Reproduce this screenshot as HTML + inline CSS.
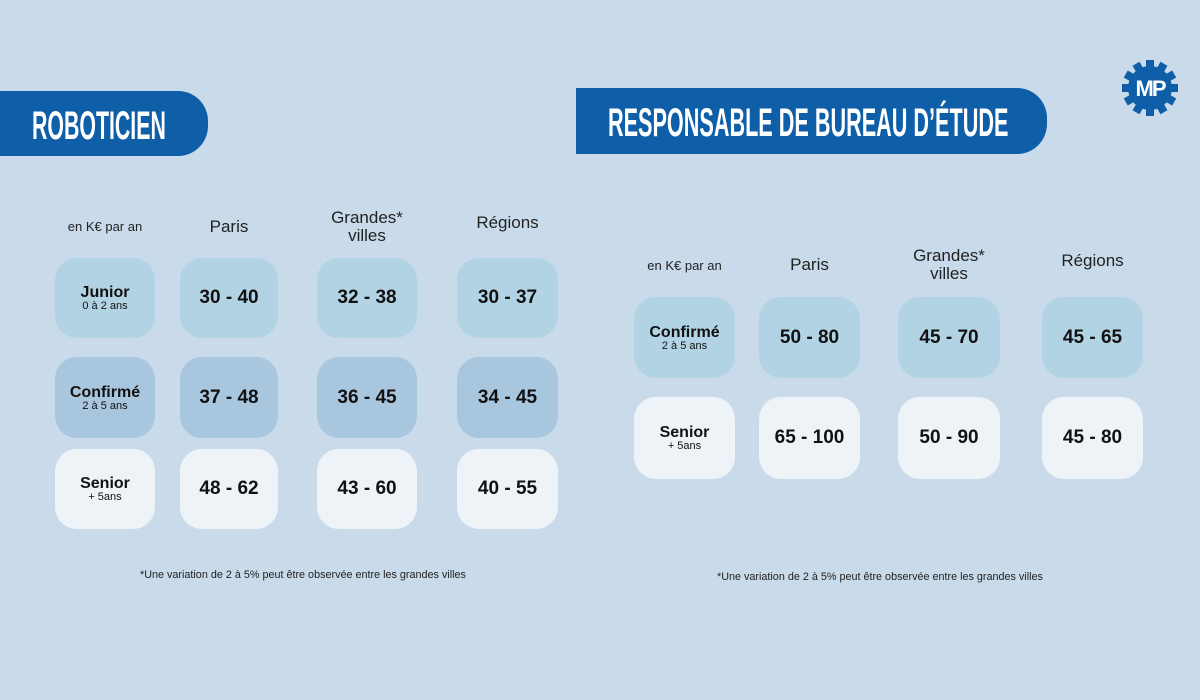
<!DOCTYPE html>
<html><head><meta charset="utf-8"><style>
*{margin:0;padding:0;box-sizing:border-box}
body{width:1200px;height:700px;background:#c9dbeb;position:relative;overflow:hidden;font-family:"Liberation Sans","DejaVu Sans",sans-serif;color:#111}
.ban{position:absolute;background:#0f5ea8;border-radius:0 30px 30px 0}
.tt{position:absolute;color:#fff;font-weight:bold;font-size:40px;line-height:40px;white-space:nowrap;transform-origin:0 0}
.card{position:absolute;border-radius:22px;display:flex;flex-direction:column;align-items:center;justify-content:center;font-weight:bold;font-size:19px;text-align:center}
.card small{font-weight:normal;font-size:11px;line-height:11px}
.card .l{font-size:16px;line-height:17px}
.r1{background:#b2d3e3}.r2{background:#a9c6df}.r3{background:#eef3f8}
.h{position:absolute;font-size:17px;text-align:center;line-height:18px;color:#222}
.h.s{font-size:13px}
.fn{position:absolute;font-size:10.8px;color:#222;white-space:nowrap}
</style></head><body>
<div class="ban" style="left:0;top:91px;width:208px;height:65px"></div>
<div class="tt" style="left:32px;top:106px;transform:scaleX(0.533)">ROBOTICIEN</div>
<div class="ban" style="left:576px;top:88px;width:471px;height:66px"></div>
<div class="tt" style="left:608px;top:103px;transform:scaleX(0.541)">RESPONSABLE DE BUREAU D’ÉTUDE</div>
<svg style="position:absolute;left:1122px;top:60px" width="56" height="56" viewBox="0 0 56 56">
<g fill="#0f5ea8" transform="translate(28,28)">
<circle r="22"/>
<g id="t"><rect x="-4" y="-28" width="8" height="10"/></g>
<use href="#t" transform="rotate(30)"/><use href="#t" transform="rotate(60)"/><use href="#t" transform="rotate(90)"/><use href="#t" transform="rotate(120)"/><use href="#t" transform="rotate(150)"/><use href="#t" transform="rotate(180)"/><use href="#t" transform="rotate(210)"/><use href="#t" transform="rotate(240)"/><use href="#t" transform="rotate(270)"/><use href="#t" transform="rotate(300)"/><use href="#t" transform="rotate(330)"/>
</g>
<text x="28" y="36" text-anchor="middle" font-family="Liberation Sans" font-weight="bold" font-size="22" fill="#fff" letter-spacing="-2">MP</text>
</svg>

<div class="h s" style="left:55px;top:218px;width:100px">en K€ par an</div>
<div class="h" style="left:180px;top:218px;width:98px">Paris</div>
<div class="h" style="left:317px;top:209px;width:100px">Grandes*<br>villes</div>
<div class="h" style="left:457px;top:214px;width:101px">Régions</div>

<div class="card r1" style="left:55px;top:258px;width:100px;height:80px"><span class="l">Junior</span><small>0 à 2 ans</small></div>
<div class="card r1" style="left:180px;top:258px;width:98px;height:80px">30 - 40</div>
<div class="card r1" style="left:317px;top:258px;width:100px;height:80px">32 - 38</div>
<div class="card r1" style="left:457px;top:258px;width:101px;height:80px">30 - 37</div>

<div class="card r2" style="left:55px;top:357px;width:100px;height:81px"><span class="l">Confirmé</span><small>2 à 5 ans</small></div>
<div class="card r2" style="left:180px;top:357px;width:98px;height:81px">37 - 48</div>
<div class="card r2" style="left:317px;top:357px;width:100px;height:81px">36 - 45</div>
<div class="card r2" style="left:457px;top:357px;width:101px;height:81px">34 - 45</div>

<div class="card r3" style="left:55px;top:449px;width:100px;height:80px"><span class="l">Senior</span><small>+ 5ans</small></div>
<div class="card r3" style="left:180px;top:449px;width:98px;height:80px">48 - 62</div>
<div class="card r3" style="left:317px;top:449px;width:100px;height:80px">43 - 60</div>
<div class="card r3" style="left:457px;top:449px;width:101px;height:80px">40 - 55</div>

<div class="fn" style="left:140px;top:569px">*Une variation de 2 à 5% peut être observée entre les grandes villes</div>

<div class="h s" style="left:634px;top:257px;width:101px">en K€ par an</div>
<div class="h" style="left:759px;top:256px;width:101px">Paris</div>
<div class="h" style="left:898px;top:247px;width:102px">Grandes*<br>villes</div>
<div class="h" style="left:1042px;top:252px;width:101px">Régions</div>

<div class="card r1" style="left:634px;top:297px;width:101px;height:81px"><span class="l">Confirmé</span><small>2 à 5 ans</small></div>
<div class="card r1" style="left:759px;top:297px;width:101px;height:81px">50 - 80</div>
<div class="card r1" style="left:898px;top:297px;width:102px;height:81px">45 - 70</div>
<div class="card r1" style="left:1042px;top:297px;width:101px;height:81px">45 - 65</div>

<div class="card r3" style="left:634px;top:397px;width:101px;height:82px"><span class="l">Senior</span><small>+ 5ans</small></div>
<div class="card r3" style="left:759px;top:397px;width:101px;height:82px">65 - 100</div>
<div class="card r3" style="left:898px;top:397px;width:102px;height:82px">50 - 90</div>
<div class="card r3" style="left:1042px;top:397px;width:101px;height:82px">45 - 80</div>

<div class="fn" style="left:717px;top:571px">*Une variation de 2 à 5% peut être observée entre les grandes villes</div>
</body></html>
